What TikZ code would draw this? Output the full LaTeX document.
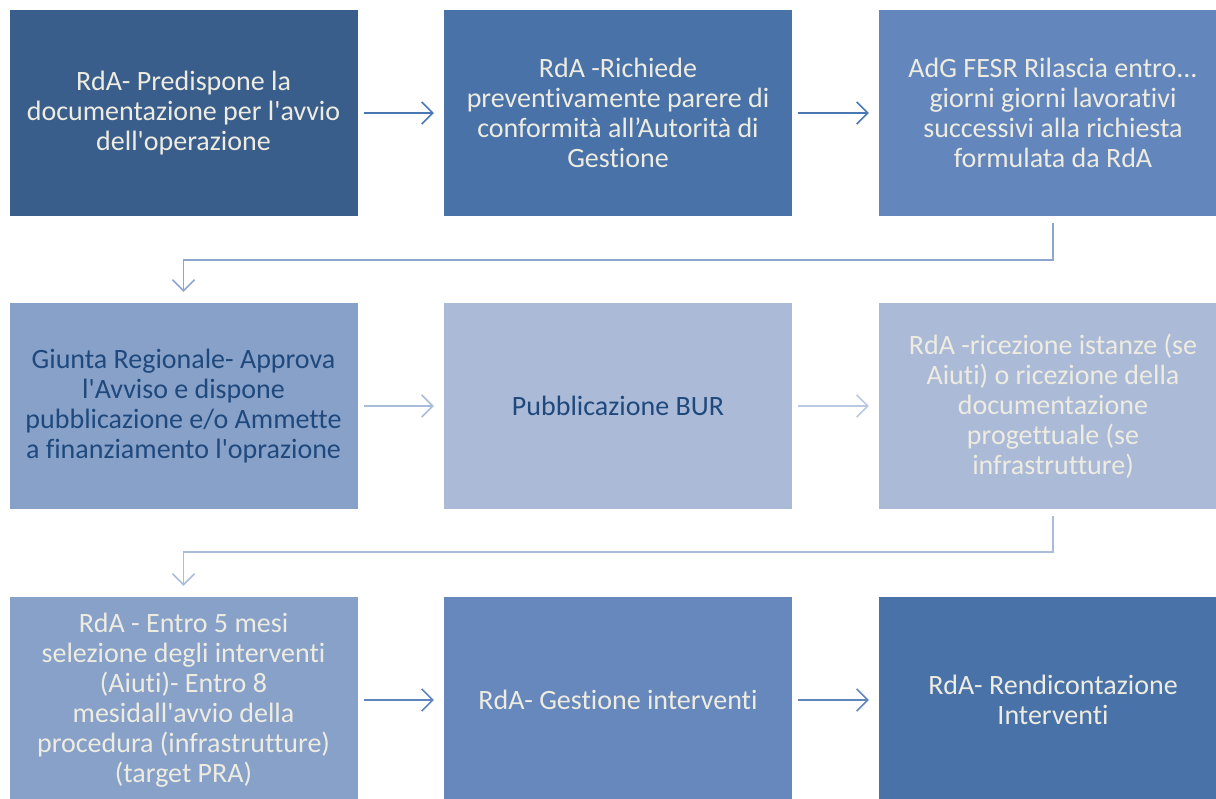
\documentclass[tikz,border=0pt]{standalone}
\usepackage{fontspec}
\setmainfont{Carlito}[Ligatures={CommonOff,TeXOff}]
\usetikzlibrary{arrows.meta}
\definecolor{cA}{HTML}{3A5E8C}
\definecolor{cB}{HTML}{4872A8}
\definecolor{cC}{HTML}{6387BC}
\definecolor{cD}{HTML}{87A1C9}
\definecolor{cE}{HTML}{ABBAD7}
\definecolor{cF}{HTML}{6688BD}
\definecolor{txtlight}{HTML}{EEECE1}
\definecolor{txtdark}{HTML}{1F497D}
\definecolor{arrA}{HTML}{4A78B5}
\definecolor{arrB}{HTML}{A9BCDA}
\definecolor{arrC}{HTML}{8EA6CE}
\definecolor{arrD}{HTML}{5F85BE}
\tikzset{
  x=1pt,y=-1pt,
  stepbox/.style={minimum width=348pt,minimum height=206pt,inner sep=0pt,align=center,
    font=\fontsize{28}{30}\selectfont,text=txtlight},
  flow/.style={line width=1.6pt,-{Straight Barb[length=11pt,width=22pt,line width=1.6pt]}},
}
\begin{document}
\begin{tikzpicture}
\useasboundingbox (0,0) rectangle (1216,799);
\clip (0,0) rectangle (1216,799);
% row 1
\node[stepbox,fill=cA] (a1) at (183.5,113) {RdA- Predispone la\\documentazione per l'avvio\\dell'operazione};
\node[stepbox,fill=cB] (a2) at (618,113) {RdA -Richiede\\preventivamente parere di\\conformità all’Autorità di\\Gestione};
\node[stepbox,fill=cC] (a3) at (1053,113) {AdG FESR Rilascia entro...\\giorni giorni lavorativi\\successivi alla richiesta\\formulata da RdA};
% row 2
\node[stepbox,fill=cD,text=txtdark] (b1) at (183.5,406) {Giunta Regionale- Approva\\l'Avviso e dispone\\pubblicazione e/o Ammette\\a finanziamento l'oprazione};
\node[stepbox,fill=cE,text=txtdark] (b2) at (618,406) {Pubblicazione BUR};
\node[stepbox,fill=cE] (b3) at (1053,406) {RdA -ricezione istanze (se\\Aiuti) o ricezione della\\documentazione\\progettuale (se\\infrastrutture)};
% row 3
\node[stepbox,fill=cD] (c1) at (183.5,700) {RdA - Entro 5 mesi\\selezione degli interventi\\(Aiuti)- Entro 8\\mesidall'avvio della\\procedura (infrastrutture)\\(target PRA)};
\node[stepbox,fill=cF] (c2) at (618,700) {RdA- Gestione interventi};
\node[stepbox,fill=cB] (c3) at (1053,700) {RdA- Rendicontazione\\Interventi};
% connectors
\draw[flow,arrA] ([xshift=6pt]a1.east) -- ([xshift=-10pt]a2.west);
\draw[flow,arrA] ([xshift=6pt]a2.east) -- ([xshift=-10pt]a3.west);
\draw[flow,arrC] ([yshift=-7pt]a3.south) |- (183.5,260) -- ([yshift=11pt]b1.north);
\draw[flow,arrB] ([xshift=6pt]b1.east) -- ([xshift=-10pt]b2.west);
\draw[flow,arrB!80!white] ([xshift=6pt]b2.east) -- ([xshift=-10pt]b3.west);
\draw[flow,arrB] ([yshift=-7pt]b3.south) |- (183.5,552) -- ([yshift=11pt]c1.north);
\draw[flow,arrD] ([xshift=6pt]c1.east) -- ([xshift=-10pt]c2.west);
\draw[flow,arrD] ([xshift=6pt]c2.east) -- ([xshift=-10pt]c3.west);
\end{tikzpicture}
\end{document}
